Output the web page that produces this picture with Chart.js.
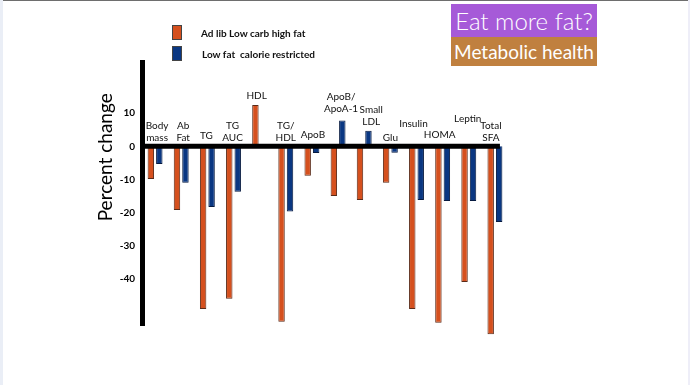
<!DOCTYPE html>
<html>
<head>
<meta charset="utf-8">
<script src="https://cdn.jsdelivr.net/npm/chart.js@4/dist/chart.umd.min.js"></script>
<style>
  html, body { margin: 0; padding: 0; background: #fff; }
  #wrap { position: relative; width: 690px; height: 385px; overflow: hidden; font-family: 'Lato', sans-serif; }
  #wrap canvas { position: absolute; left: 0; top: 0; }
  .edge-top { position: absolute; left: 3px; right: 0; top: 0; height: 1px; background: #6e6e6e; }
  .edge-left { position: absolute; left: 0; top: 0; bottom: 0; width: 3px; background: #eaeef6; }
  .edge-right { position: absolute; right: 0; top: 0; bottom: 0; width: 2px; background: #eeeef8; }
  .tag { position: absolute; left: 451px; width: 146px; color: #fff; text-align: center; white-space: nowrap; }
  .tag1 { top: 4px; height: 33px; line-height: 33px; background: #a65ad8; font-size: 24px; font-weight: 300; }
  .tag2 { top: 37px; height: 29px; line-height: 29px; background: #c0803f; font-size: 19px; }
  #legend { position: absolute; left: 172px; top: 25px; font-size: 10px; font-weight: bold; color: #111; }
  #legend .row { position: relative; height: 21px; }
  #legend .sw { position: absolute; left: 0; top: 0; width: 10px; height: 15px; border: 1px solid #444; box-sizing: border-box; }
  #legend .txt { position: absolute; top: 2px; white-space: nowrap; }
</style>
</head>
<body>
<div id="wrap">
  <canvas id="chart" width="690" height="385"></canvas>
  <div class="edge-top"></div>
  <div class="edge-left"></div>
  <div class="edge-right"></div>
  <div class="tag tag1">Eat more fat?</div>
  <div class="tag tag2">Metabolic health</div>
  <div id="legend"></div>
</div>
<script>
// --- Chart data ---
const categories = [
    ['Body', 'mass'], ['Ab', 'Fat'], ['TG'], ['TG', 'AUC'], ['HDL'], ['TG/', 'HDL'], ['ApoB'],
    ['ApoB/', 'ApoA-1'], ['Small', 'LDL'], ['Glu'], ['Insulin'], ['HOMA'], ['Leptin'], ['Total', 'SFA']
];
const lowCarbHighFat = [-9.9, -19.2, -49.2, -46.1, 12.5, -53, -8.9, -15, -16.2, -11, -49.2, -53.3, -41, -56.8];
const lowFatRestricted = [-5.3, -11, -18.3, -13.7, null, -19.7, -2, 7.8, 4.7, -1.9, -16.2, -16.5, -16.5, -22.9];
const seriesNames = ['Ad lib Low carb high fat', 'Low fat  calorie restricted'];
const yTicks = [10, 0, -10, -20, -30, -40];

// label tweaks (px) - the slide had labels at uneven heights
const labelLift = [0, 0, 2, 0, 0, 0, 3, 3, 0, 0, 14, 3, 19, 0];
const labelShift = [2, 2, -1, -1, -3, 0, 1, 3, 7, 0, -3, -3, -1, -4];
const legendTextX = [29, 30];

const ORANGE = '#d5501e';
const BLUE = '#0a3782';

// --- Custom drawing: zero line, category labels, y title ---
const slideDecor = {
    id: 'slideDecor',
    afterDatasetsDraw(chart) {
        const { ctx, chartArea, scales: { x, y } } = chart;
        const y0 = y.getPixelForValue(0);
        ctx.save();
        ctx.strokeStyle = '#000';
        ctx.lineWidth = 5;
        ctx.beginPath();
        ctx.moveTo(chartArea.left, y0);
        ctx.lineTo(x.getPixelForValue(categories.length - 1) + 5, y0);
        ctx.stroke();
        ctx.restore();
    },
    afterDraw(chart) {
        const { ctx, scales: { x, y } } = chart;
        ctx.save();
        ctx.fillStyle = '#111';
        ctx.font = "10px 'Lato', sans-serif";
        ctx.textAlign = 'center';
        ctx.textBaseline = 'middle';
        categories.forEach((lines, i) => {
            const top = Math.max(0, lowCarbHighFat[i] || 0, lowFatRestricted[i] || 0);
            let base = y.getPixelForValue(top) - 9 - labelLift[i];
            const cx = x.getPixelForValue(i) + labelShift[i];
            for (let k = lines.length - 1; k >= 0; k--) {
                ctx.fillText(lines[k], cx, base);
                base -= 12;
            }
        });
        // y axis title
        ctx.translate(106, y.getPixelForValue(-3.3));
        ctx.rotate(-Math.PI / 2);
        ctx.font = "19px 'Lato', sans-serif";
        ctx.fillStyle = '#000';
        ctx.fillText('Percent change', 0, 0);
        ctx.restore();
    }
};

function buildLegend() {
    const colors = [ORANGE, BLUE];
    document.getElementById('legend').innerHTML = seriesNames.map((name, i) =>
        `<div class="row"><div class="sw" style="background:${colors[i]}"></div>` +
        `<div class="txt" style="left:${legendTextX[i]}px">${name.replace(/  /g, ' &nbsp;')}</div></div>`
    ).join('');
}

function initChart() {
    new Chart(document.getElementById('chart').getContext('2d'), {
        type: 'bar',
        data: {
            labels: categories,
            datasets: [{
                label: seriesNames[0],
                data: lowCarbHighFat,
                backgroundColor: ORANGE,
                borderColor: '#5a2a18',
                borderWidth: 1,
                clip: false
            }, {
                label: seriesNames[1],
                data: lowFatRestricted,
                backgroundColor: BLUE,
                borderColor: '#061a40',
                borderWidth: 1,
                clip: false
            }]
        },
        options: {
            responsive: false,
            animation: false,
            datasets: { bar: { categoryPercentage: 0.648, barPercentage: 0.76 } },
            layout: { padding: { left: 88, right: 182, top: 62, bottom: 60 } },
            scales: {
                x: { display: false, offset: true },
                y: {
                    min: -54,
                    max: 25.5,
                    afterBuildTicks: (scale) => { scale.ticks = yTicks.map(v => ({ value: v })); },
                    afterFit: (scale) => { scale.width = 54; },
                    grid: { display: false, drawTicks: false },
                    border: { display: true, color: '#000', width: 5 },
                    ticks: {
                        padding: 7,
                        color: '#000',
                        font: { size: 10, weight: 'bold', family: "'Lato', sans-serif" }
                    }
                }
            },
            plugins: {
                legend: { display: false },
                tooltip: { enabled: false }
            }
        },
        plugins: [slideDecor]
    });
}

document.addEventListener('DOMContentLoaded', () => {
    buildLegend();
    initChart();
});
</script>
</body>
</html>
